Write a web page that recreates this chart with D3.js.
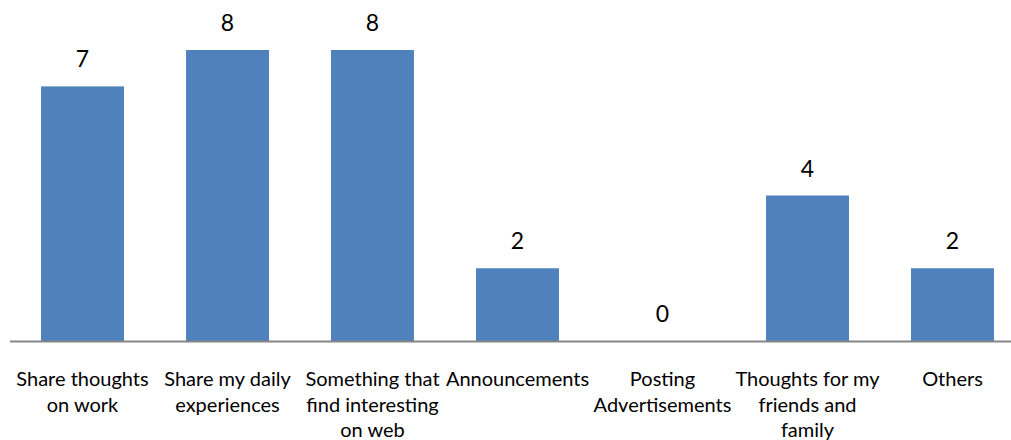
<!DOCTYPE html>
<html>
<head>
<meta charset="utf-8">
<script src="https://cdn.jsdelivr.net/npm/d3@7/dist/d3.min.js"></script>
<style>
  html, body { margin: 0; padding: 0; background: #fff; }
  svg { display: block; }
  text { font-family: Lato, "Open Sans", sans-serif; fill: #000; }
</style>
</head>
<body>
<svg id="chart" width="1011" height="440"></svg>
<script>
// Chart data
const categories = [
  "Share thoughts on work",
  "Share my daily experiences",
  "Something that find interesting on web",
  "Announcements",
  "Posting Advertisements",
  "Thoughts for my friends and family",
  "Others"
];
// Wrapped lines for each category label
const categoryLines = [
  ["Share thoughts", "on work"],
  ["Share my daily", "experiences"],
  ["Something that", "find interesting", "on web"],
  ["Announcements"],
  ["Posting", "Advertisements"],
  ["Thoughts for my", "friends and", "family"],
  ["Others"]
];
const values = [7, 8, 8, 2, 0, 4, 2];
const yMax = 8;

const svg = d3.select("#chart");
const baselineY = 341;
const plotTop = 50;

const x = d3.scaleBand()
  .domain(categories)
  .range([10, 1025])
  .paddingInner(0.428)
  .paddingOuter(0.214);

const y = d3.scaleLinear()
  .domain([0, yMax])
  .range([baselineY, plotTop]);

// Bars
svg.append("g")
  .selectAll("rect")
  .data(values)
  .join("rect")
  .attr("x", (d, i) => x(categories[i]))
  .attr("y", d => y(d))
  .attr("width", x.bandwidth())
  .attr("height", d => y(0) - y(d))
  .attr("fill", "#4F81BD");

// Value labels above bars
svg.append("g")
  .selectAll("text")
  .data(values)
  .join("text")
  .attr("x", (d, i) => x(categories[i]) + x.bandwidth() / 2)
  .attr("y", d => y(d) - 19)
  .attr("text-anchor", "middle")
  .attr("font-size", 23)
  .text(d => d);

// Category axis
const axis = svg.append("g")
  .attr("transform", `translate(0,${baselineY})`)
  .call(d3.axisBottom(x).tickSize(0).tickFormat(""));
axis.select(".domain")
  .attr("d", "M10,0.5H1011")
  .attr("stroke", "#868686")
  .attr("stroke-width", 2);

// Multi-line category labels
const labels = svg.append("g")
  .selectAll("text")
  .data(categories)
  .join("text")
  .attr("text-anchor", "middle")
  .attr("font-size", 20)
  .attr("transform", d => `translate(${x(d) + x.bandwidth() / 2},386)`);
labels.each(function (d, i) {
  d3.select(this).selectAll("tspan")
    .data(categoryLines[i])
    .join("tspan")
    .attr("x", 0)
    .attr("y", (t, j) => j * 25.5)
    .text(t => t);
});
</script>
</body>
</html>
